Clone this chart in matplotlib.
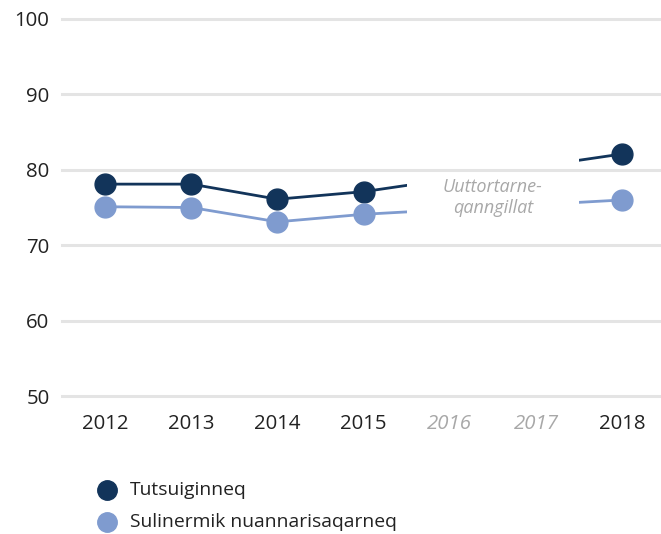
import matplotlib
matplotlib.use("Agg")
import matplotlib.pyplot as plt
from matplotlib.patches import Rectangle
from matplotlib.lines import Line2D

# --- Data ---
years = ["2012", "2013", "2014", "2015", "2016", "2017", "2018"]
missing_years = ["2016", "2017"]
tutsuiginneq = [78.1, 78.1, 76.1, 77.1, None, None, 82.1]
sulinermik = [75.1, 75.0, 73.1, 74.1, None, None, 76.0]
series_names = ["Tutsuiginneq", "Sulinermik nuannarisaqarneq"]
gap_note = "Uuttortarne-\nqanngillat"
y_ticks = [50, 60, 70, 80, 90, 100]

# --- Style ---
NAVY = "#12345a"
LIGHT = "#7f9bcf"
GRID = "#e4e4e4"
TEXT = "#222222"
MUTED = "#a8a8a8"
plt.rcParams["font.family"] = ["Open Sans", "DejaVu Sans"]

fig = plt.figure(figsize=(6.61, 5.34), dpi=100)
ax = fig.add_axes([62 / 661, 1 - 396 / 534, 1 - 62 / 661, (396 - 19) / 534])

x = list(range(len(years)))
ax.set_xlim(-0.5, 6.45)
ax.set_ylim(50, 100)

for t in y_ticks:
    ax.axhline(t, color=GRID, lw=2.2, zorder=0, clip_on=False)

# gap between last measured year and next measured year
gap_lo = years.index(missing_years[0]) - 0.5
gap_hi = years.index(missing_years[-1]) + 0.5

for vals, col in [(tutsuiginneq, NAVY), (sulinermik, LIGHT)]:
    pts = [(xi, v) for xi, v in zip(x, vals) if v is not None]
    px = [p[0] for p in pts]
    py = [p[1] for p in pts]
    for clip_x0, clip_w in [(-1, gap_lo + 1), (gap_hi, 10)]:
        ln, = ax.plot(px, py, color=col, lw=2.0, zorder=2)
        ln.set_clip_path(Rectangle((clip_x0, 0), clip_w, 200, transform=ax.transData))
    ax.plot(px, py, ls="none", marker="o", ms=15, color=col, zorder=3)

ax.text((gap_lo + gap_hi) / 2, 76.3, gap_note, ha="center", va="center",
        style="italic", color=MUTED, fontsize=13, linespacing=1.2)

ax.set_xticks(x)
ax.set_xticklabels(years)
for lbl, yr in zip(ax.get_xticklabels(), years):
    if yr in missing_years:
        lbl.set_color(MUTED)
        lbl.set_style("italic")
    else:
        lbl.set_color(TEXT)
ax.set_yticks(y_ticks)
ax.set_yticklabels([str(t) for t in y_ticks], color=TEXT)
ax.tick_params(axis="both", length=0, labelsize=14.7)
ax.tick_params(axis="x", pad=13)
ax.tick_params(axis="y", pad=9)
for s in ax.spines.values():
    s.set_visible(False)

# legend
for i, (name, col) in enumerate(zip(series_names, [NAVY, LIGHT])):
    yy = 1 - (490 + 32 * i) / 534
    fig.add_artist(Line2D([107 / 661], [yy], transform=fig.transFigure,
                          marker="o", ms=14, color=col, ls="none"))
    fig.text(130 / 661, yy, name, ha="left", va="center", fontsize=13.9, color=TEXT)

fig.savefig("out.png", dpi=100)
